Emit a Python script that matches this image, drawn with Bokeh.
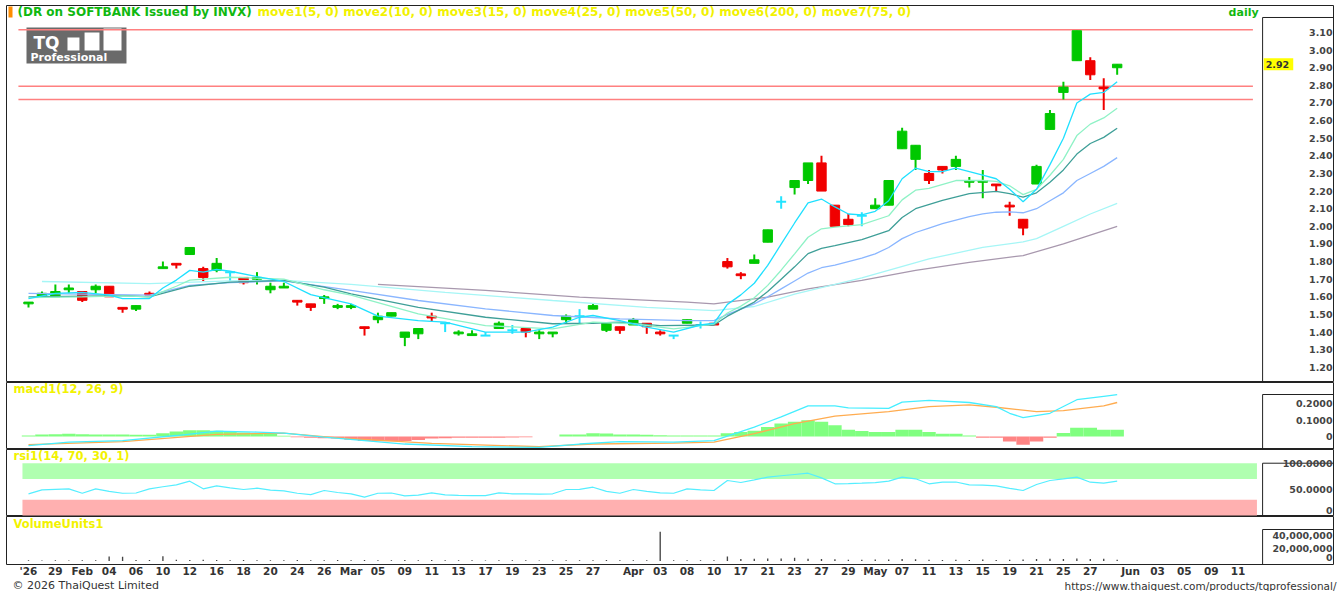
from bokeh.plotting import figure
from bokeh.models import (Range1d, LinearAxis, FixedTicker, CustomJSTickFormatter,
                          NumeralTickFormatter, ColumnDataSource, AllLabels)
from bokeh.layouts import column
from bokeh.embed import file_html
from bokeh.resources import INLINE
from bokeh.core.properties import value

# ---------------- data ----------------
DATES = ["2026-01-27", "2026-01-28", "2026-01-29", "2026-01-30", "2026-02-02", "2026-02-03",
         "2026-02-04", "2026-02-05", "2026-02-06", "2026-02-09", "2026-02-10", "2026-02-11",
         "2026-02-12", "2026-02-13", "2026-02-16", "2026-02-17", "2026-02-18", "2026-02-19",
         "2026-02-20", "2026-02-23", "2026-02-24", "2026-02-25", "2026-02-26", "2026-02-27",
         "2026-03-02", "2026-03-04", "2026-03-05", "2026-03-06", "2026-03-09", "2026-03-10",
         "2026-03-11", "2026-03-12", "2026-03-13", "2026-03-16", "2026-03-17", "2026-03-18",
         "2026-03-19", "2026-03-20", "2026-03-23", "2026-03-24", "2026-03-25", "2026-03-26",
         "2026-03-27", "2026-03-30", "2026-03-31", "2026-04-01", "2026-04-02", "2026-04-03",
         "2026-04-07", "2026-04-08", "2026-04-09", "2026-04-10", "2026-04-16", "2026-04-17",
         "2026-04-20", "2026-04-21", "2026-04-22", "2026-04-23", "2026-04-24", "2026-04-27",
         "2026-04-28", "2026-04-29", "2026-04-30", "2026-05-05", "2026-05-06", "2026-05-07",
         "2026-05-08", "2026-05-11", "2026-05-12", "2026-05-13", "2026-05-14", "2026-05-15",
         "2026-05-18", "2026-05-19", "2026-05-20", "2026-05-21", "2026-05-22", "2026-05-25",
         "2026-05-26", "2026-05-27", "2026-05-28", "2026-05-29"]

OPEN = [1.56, 1.60, 1.60, 1.64, 1.63, 1.64, 1.66, 1.54, 1.53, 1.62,
        1.76, 1.79, 1.84, 1.76, 1.75, 1.74, 1.71, 1.70, 1.64, 1.65,
        1.58, 1.56, 1.59, 1.54, 1.54, 1.43, 1.47, 1.49, 1.37, 1.39,
        1.49, 1.45, 1.39, 1.38, 1.38, 1.42, 1.41, 1.42, 1.39, 1.39,
        1.47, 1.49, 1.53, 1.41, 1.43, 1.44, 1.45, 1.40, 1.38, 1.45,
        1.44, 1.45, 1.80, 1.73, 1.79, 1.91, 2.14, 2.22, 2.26, 2.36,
        2.12, 2.04, 2.06, 2.10, 2.12, 2.44, 2.38, 2.30, 2.34, 2.34,
        2.25, 2.25, 2.24, 2.12, 2.04, 2.24, 2.55, 2.76, 2.94, 2.94,
        2.79, 2.90]
HIGH = [1.57, 1.63, 1.67, 1.67, 1.63, 1.67, 1.66, 1.54, 1.55, 1.63,
        1.80, 1.79, 1.88, 1.77, 1.82, 1.74, 1.71, 1.74, 1.68, 1.68,
        1.58, 1.56, 1.61, 1.56, 1.56, 1.43, 1.51, 1.51, 1.40, 1.42,
        1.51, 1.45, 1.41, 1.41, 1.40, 1.46, 1.44, 1.42, 1.41, 1.40,
        1.50, 1.53, 1.56, 1.45, 1.43, 1.48, 1.45, 1.41, 1.38, 1.47,
        1.46, 1.45, 1.82, 1.74, 1.84, 1.98, 2.17, 2.26, 2.36, 2.40,
        2.12, 2.07, 2.08, 2.16, 2.26, 2.56, 2.46, 2.32, 2.34, 2.40,
        2.28, 2.32, 2.24, 2.14, 2.04, 2.35, 2.66, 2.82, 3.11, 2.96,
        2.84, 2.92]
LOW = [1.54, 1.60, 1.60, 1.62, 1.57, 1.62, 1.60, 1.51, 1.52, 1.61,
       1.76, 1.76, 1.84, 1.69, 1.74, 1.69, 1.67, 1.67, 1.62, 1.65,
       1.55, 1.52, 1.56, 1.53, 1.53, 1.38, 1.45, 1.49, 1.32, 1.36,
       1.46, 1.40, 1.38, 1.38, 1.38, 1.42, 1.39, 1.37, 1.36, 1.37,
       1.45, 1.45, 1.53, 1.40, 1.39, 1.44, 1.39, 1.38, 1.36, 1.45,
       1.42, 1.44, 1.76, 1.70, 1.79, 1.91, 2.10, 2.18, 2.24, 2.20,
       2.00, 2.00, 2.00, 2.10, 2.12, 2.44, 2.32, 2.24, 2.30, 2.32,
       2.22, 2.16, 2.20, 2.06, 1.95, 2.24, 2.55, 2.72, 2.94, 2.83,
       2.66, 2.86]
CLOSE = [1.57, 1.62, 1.63, 1.65, 1.58, 1.66, 1.60, 1.53, 1.55, 1.61,
         1.77, 1.78, 1.88, 1.71, 1.79, 1.74, 1.68, 1.71, 1.66, 1.66,
         1.57, 1.54, 1.60, 1.55, 1.55, 1.42, 1.49, 1.51, 1.40, 1.42,
         1.48, 1.45, 1.40, 1.39, 1.38, 1.45, 1.41, 1.40, 1.40, 1.40,
         1.49, 1.49, 1.55, 1.45, 1.41, 1.47, 1.43, 1.39, 1.38, 1.47,
         1.44, 1.44, 1.77, 1.72, 1.81, 1.98, 2.14, 2.26, 2.36, 2.20,
         2.00, 2.01, 2.06, 2.12, 2.26, 2.54, 2.46, 2.26, 2.32, 2.38,
         2.26, 2.26, 2.23, 2.11, 1.99, 2.34, 2.64, 2.79, 3.11, 2.86,
         2.78, 2.92]
VOLUME = [1.0e6, 0.8e6, 1.2e6, 0.9e6, 1.1e6, 1.0e6, 7.0e6, 6.5e6, 1.5e6, 1.4e6,
          7.5e6, 2.0e6, 1.6e6, 1.8e6, 1.4e6, 1.2e6, 1.5e6, 1.3e6, 1.2e6, 1.0e6,
          1.4e6, 1.3e6, 1.2e6, 1.4e6, 1.1e6, 1.6e6, 1.2e6, 1.1e6, 1.5e6, 1.3e6,
          1.4e6, 1.1e6, 1.0e6, 1.2e6, 0.9e6, 1.3e6, 1.0e6, 1.2e6, 0.9e6, 1.1e6,
          1.3e6, 1.0e6, 1.2e6, 1.4e6, 1.0e6, 1.1e6, 1.2e6, 46.0e6, 1.3e6, 1.1e6,
          1.0e6, 1.2e6, 7.0e6, 3.0e6, 3.5e6, 3.8e6, 4.0e6, 5.0e6, 3.5e6, 3.0e6,
          2.8e6, 2.0e6, 1.8e6, 2.2e6, 2.5e6, 3.0e6, 2.6e6, 2.0e6, 1.6e6, 1.8e6,
          1.5e6, 2.2e6, 1.6e6, 1.8e6, 2.4e6, 3.2e6, 3.5e6, 3.0e6, 4.0e6, 3.0e6,
          3.5e6, 2.0e6]

# moving averages (candle index, value)
MA5_X = [0, 2, 4, 6, 7, 9, 10, 11, 12, 13, 14, 15, 17, 19, 21, 24, 26, 29, 31, 34,
         37, 39, 41, 42, 44, 46, 48, 50, 51, 52, 53, 54, 55, 56, 57, 58, 59, 60, 61,
         62, 63, 64, 65, 66, 67, 68, 69, 70, 71, 72, 73, 74, 75, 76, 77, 78, 79, 80, 81]
MA5_Y = [1.59, 1.62, 1.625, 1.61, 1.59, 1.59, 1.65, 1.695, 1.75, 1.74, 1.755, 1.745, 1.715,
         1.687, 1.612, 1.56, 1.49, 1.465, 1.456, 1.40, 1.40, 1.428, 1.484, 1.494, 1.465,
         1.428, 1.40, 1.44, 1.45, 1.557, 1.611, 1.677, 1.778, 1.899, 2.019, 2.133, 2.155,
         2.11, 2.07, 2.065, 2.085, 2.145, 2.27, 2.33, 2.31, 2.31, 2.33, 2.31, 2.29, 2.27,
         2.21, 2.14, 2.21, 2.35, 2.50, 2.70, 2.75, 2.76, 2.82]
MA10_X = [0, 4, 7, 9, 10, 11, 12, 15, 19, 22, 24, 29, 34, 39, 42, 45, 48, 51, 52, 53, 54,
          55, 56, 57, 58, 59, 60, 62, 64, 65, 66, 67, 69, 71, 72, 73, 74, 75, 76, 77, 78,
          79, 80, 81]
MA10_Y = [1.595, 1.60, 1.605, 1.60, 1.63, 1.66, 1.695, 1.711, 1.70, 1.64, 1.61, 1.503,
          1.437, 1.418, 1.456, 1.447, 1.418, 1.445, 1.508, 1.547, 1.595, 1.665, 1.751,
          1.844, 1.938, 1.986, 1.995, 2.01, 2.06, 2.15, 2.205, 2.215, 2.26, 2.26, 2.255,
          2.23, 2.18, 2.21, 2.29, 2.38, 2.515, 2.58, 2.615, 2.67]
MA15_X = [0, 7, 9, 12, 15, 19, 22, 24, 29, 34, 39, 42, 44, 47, 51, 52, 53, 54, 55, 56, 57,
          58, 59, 60, 62, 64, 65, 66, 68, 70, 72, 73, 74, 75, 76, 77, 78, 79, 80, 81]
MA15_Y = [1.60, 1.607, 1.60, 1.66, 1.683, 1.693, 1.655, 1.617, 1.54, 1.484, 1.447, 1.45,
          1.456, 1.437, 1.44, 1.49, 1.53, 1.57, 1.63, 1.70, 1.77, 1.845, 1.875, 1.89,
          1.925, 1.975, 2.05, 2.10, 2.147, 2.186, 2.198, 2.185, 2.166, 2.19, 2.25, 2.32,
          2.41, 2.47, 2.505, 2.557]
MA25_X = [0, 9, 12, 15, 19, 24, 29, 34, 39, 44, 49, 51, 52, 53, 54, 55, 56, 57, 58, 59,
          60, 61, 62, 63, 64, 65, 66, 67, 68, 69, 70, 71, 72, 73, 74, 75, 76, 77, 78, 79,
          80, 81]
MA25_Y = [1.62, 1.61, 1.665, 1.68, 1.69, 1.636, 1.579, 1.532, 1.494, 1.475, 1.465, 1.465,
          1.50, 1.53, 1.56, 1.60, 1.645, 1.69, 1.735, 1.765, 1.78, 1.80, 1.82, 1.844, 1.88,
          1.93, 1.965, 1.99, 2.015, 2.035, 2.055, 2.071, 2.08, 2.082, 2.077, 2.10, 2.145,
          2.19, 2.26, 2.30, 2.34, 2.39]
MA50_X = [1, 9, 15, 19, 24, 31, 39, 46, 51, 54, 57, 62, 67, 71, 74, 75, 77, 79, 81]
MA50_Y = [1.687, 1.675, 1.69, 1.693, 1.67, 1.625, 1.579, 1.54, 1.522, 1.545, 1.615, 1.708,
          1.815, 1.88, 1.912, 1.93, 2.0, 2.07, 2.13]
MA75_X = [26, 34, 41, 49, 51, 52, 55, 58, 62, 66, 70, 74, 77, 81]
MA75_Y = [1.67, 1.636, 1.598, 1.57, 1.56, 1.57, 1.598, 1.645, 1.693, 1.75, 1.796, 1.834,
          1.90, 2.00]

MACD_X = [0, 3, 7, 11, 14, 17, 19, 22, 25, 28, 33, 38, 41, 44, 48, 51, 54, 56, 58, 60, 61,
          64, 65, 67, 70, 72, 73, 74, 76, 78, 80, 81]
MACD_Y = [-0.056, -0.035, -0.025, 0.006, 0.033, 0.027, 0.021, -0.004, -0.025, -0.046,
          -0.0625, -0.067, -0.046, -0.031, -0.035, -0.025, 0.058, 0.12, 0.1875, 0.1875,
          0.175, 0.172, 0.21, 0.221, 0.208, 0.183, 0.142, 0.115, 0.142, 0.225, 0.246, 0.256]
SIGNAL_X = [0, 7, 14, 19, 23, 30, 38, 42, 48, 51, 54, 57, 60, 64, 67, 70, 72, 75, 77, 80, 81]
SIGNAL_Y = [-0.05, -0.031, 0.0125, 0.021, -0.008, -0.042, -0.0625, -0.046, -0.04, -0.035,
            0.017, 0.079, 0.125, 0.152, 0.183, 0.194, 0.179, 0.152, 0.158, 0.1875, 0.208]
HIST = [0.006, 0.012, 0.014, 0.017, 0.014, 0.012, 0.012, 0.012, 0.010, 0.010,
        0.020, 0.030, 0.0375, 0.0375, 0.035, 0.030, 0.025, 0.020, 0.015, 0.005,
        -0.005, -0.008, -0.010, -0.012, -0.020, -0.027, -0.029, -0.029, -0.027, -0.022,
        -0.012, -0.010, -0.008, -0.008, -0.008, -0.007, -0.006, -0.005, 0.0, 0.0,
        0.012, 0.013, 0.020, 0.018, 0.013, 0.012, 0.010, 0.008, 0.006, 0.006,
        0.006, 0.006, 0.020, 0.027, 0.035, 0.058, 0.079, 0.090, 0.100, 0.090,
        0.069, 0.042, 0.033, 0.027, 0.027, 0.042, 0.042, 0.027, 0.017, 0.017,
        0.006, -0.008, -0.008, -0.031, -0.050, -0.031, -0.008, 0.021, 0.054, 0.054,
        0.042, 0.042]
RSI = [41.5, 49, 50, 51, 42.6, 51, 46, 42.6, 43, 51,
       55, 58.6, 65.6, 51, 56.7, 53, 49.7, 52.2, 48.4, 47,
       42.6, 40, 47.8, 44, 41.5, 35, 42.6, 43, 37.6, 39,
       43.4, 39.5, 38.5, 38.2, 38, 43.4, 41.5, 41.5, 41, 41.5,
       49.7, 50, 54.1, 46, 42.6, 49.7, 46, 43.4, 42.6, 51,
       49, 47.8, 66.9, 63.1, 68, 73.3, 76, 78.4, 80.9, 72,
       60.6, 60.8, 61.8, 63, 65.6, 73.3, 70.2, 60.6, 63.7, 64,
       58.7, 58, 56.8, 52, 47.8, 59.3, 66.9, 70, 73.3, 63.7,
       61.8, 65.6]
RSI_UPPER, RSI_LOWER = 70, 30
LEVELS = [3.115, 2.795, 2.72]

TICK_IDX = [0, 2, 4, 6, 8, 10, 12, 14, 16, 18, 20, 22, 24, 26, 28, 30, 32, 34, 36, 38, 40, 42,
            45, 47, 49, 51, 53, 55, 57, 59, 61, 63, 65, 67, 69, 71, 73, 75, 77, 79,
            82, 84, 86, 88, 90]
TICK_LABELS = ["'26", "29", "Feb", "04", "06", "10", "12", "16", "18", "20", "24", "26",
               "Mar", "05", "09", "11", "13", "17", "19", "23", "25", "27",
               "Apr", "03", "08", "10", "17", "21", "23", "27", "29", "May", "07", "11",
               "13", "15", "19", "21", "25", "27",
               "Jun", "03", "05", "09", "11"]
PRICE_TICKS = [1.2, 1.3, 1.4, 1.5, 1.6, 1.7, 1.8, 1.9, 2.0, 2.1, 2.2, 2.3, 2.4, 2.5, 2.6,
               2.7, 2.8, 2.9, 3.0, 3.1]
VOLUME_TICKS = [20e6, 40e6]
VOLUME_BASE = 0

# ---------------- styling / layout ----------------
FONT = "DejaVu Sans"
GREEN, RED, DOJI = "#00c800", "#f00000", "#22e4ff"
YELLOW = "#f2f200"
LEFT_PAD = 6
FW = 1328                        # frame x from 6 to 1334 px
X0, X1 = -1.637, 97.17           # idx 0 at x=28 px, 13.44 px per candle
AXIS_AT = 97.1
BOX_X = 91.82
xr = Range1d(X0, X1)


def panel(fh, y0, y1, top=0):
    p = figure(frame_width=FW, frame_height=fh, x_range=xr, y_range=Range1d(y0, y1),
               output_backend="svg", toolbar_location=None, min_border=0,
               min_border_left=LEFT_PAD, min_border_top=top,
               x_axis_location=None, y_axis_location=None)
    p.title.visible = False
    p.grid.grid_line_color = None
    p.outline_line_color = "#222222"
    p.background_fill_color = "white"
    p.border_fill_color = "white"
    return p


def right_axis(p, ticks, fmt, baseline="middle"):
    ax = LinearAxis(fixed_location=AXIS_AT, ticker=FixedTicker(ticks=ticks), formatter=fmt,
                    major_label_policy=AllLabels(),
                    axis_line_color=None, major_tick_line_color=None,
                    minor_tick_line_color=None, major_tick_out=0, major_tick_in=0,
                    major_label_standoff=1, major_label_text_baseline=baseline,
                    major_label_text_font=FONT, major_label_text_font_style="bold",
                    major_label_text_font_size="9.5px", major_label_text_color="#444444")
    p.add_layout(ax, "left")


def txt(p, x, y, s, color, size, bold=True, align="left", baseline="middle"):
    p.text(x=[x], y=[y], text=[s], text_color=color, text_font=value(FONT),
           text_font_size=size, text_font_style="bold" if bold else "normal",
           text_align=align, text_baseline=baseline)


idx = list(range(len(CLOSE)))

# ---------------- main price panel (frame y 5..382 px) ----------------
p1 = panel(377, 1.1137, 3.2532, top=5)

# logo
p1.quad(left=[-0.149], right=[7.29], top=[3.1284], bottom=[2.924], fill_color="#6a6a6a",
        line_color=None)
p1.quad(left=[2.90, 4.17, 5.58], right=[3.79, 5.28, 6.92], top=[3.0716, 3.10, 3.1227],
        bottom=[2.998, 2.998, 2.998], fill_color="white", line_color=None)
txt(p1, 0.37, 3.0376, "TQ", "white", "17px")
txt(p1, 0.15, 2.958, "Professional", "white", "11px")

# header
p1.quad(left=[-1.488], right=[-1.19], top=[3.2476], bottom=[3.1851], fill_color="#ff8c00",
        line_color=None)
txt(p1, -0.82, 3.2135, "(DR on SOFTBANK Issued by INVX)", "#10b810", "12px")
txt(p1, 17.04, 3.2135, "move1(5, 0) move2(10, 0) move3(15, 0) move4(25, 0) move5(50, 0) "
    "move6(200, 0) move7(75, 0)", YELLOW, "12px")
txt(p1, 89.29, 3.2135, "daily", "#10b810", "11px")

# support / resistance lines
p1.segment(x0=[-0.75] * len(LEVELS), x1=[91.1] * len(LEVELS), y0=LEVELS, y1=LEVELS,
           line_color="#ff8080", line_width=1.5)

# candles
colors = [GREEN if c > o else (RED if c < o else DOJI) for o, c in zip(OPEN, CLOSE)]
src = ColumnDataSource(dict(x=idx, h=HIGH, l=LOW, color=colors))
p1.segment(x0="x", x1="x", y0="l", y1="h", line_color="color", line_width=2, source=src)
body = [i for i in idx if OPEN[i] != CLOSE[i]]
bsrc = ColumnDataSource(dict(x=body, top=[max(OPEN[i], CLOSE[i]) for i in body],
                             bot=[min(OPEN[i], CLOSE[i]) for i in body],
                             color=[colors[i] for i in body]))
p1.vbar(x="x", width=0.7, top="top", bottom="bot", fill_color="color", line_color="color",
        line_width=1, source=bsrc)
doji = [i for i in idx if OPEN[i] == CLOSE[i]]
p1.segment(x0=[i - 0.37 for i in doji], x1=[i + 0.37 for i in doji],
           y0=[OPEN[i] for i in doji], y1=[OPEN[i] for i in doji],
           line_color=DOJI, line_width=2)

# moving averages
for xs, ys, c in [(MA75_X, MA75_Y, "#a898ae"), (MA50_X, MA50_Y, "#a6f6f6"),
                  (MA25_X, MA25_Y, "#8ab6ff"), (MA15_X, MA15_Y, "#3f9f98"),
                  (MA10_X, MA10_Y, "#8ff2c6"), (MA5_X, MA5_Y, "#1fe0ff")]:
    p1.line(xs, ys, line_color=c, line_width=1.3)

# axis box + last price marker
p1.segment(x0=[BOX_X], x1=[BOX_X], y0=[1.0], y1=[3.1851], line_color="#222222", line_width=1)
p1.segment(x0=[BOX_X], x1=[X1 + 1], y0=[3.1851], y1=[3.1851], line_color="#222222",
           line_width=1)
last = CLOSE[-1]
p1.quad(left=[91.9], right=[94.1], top=[last + 0.034], bottom=[last - 0.034],
        fill_color="#ffff00", line_color=None)
txt(p1, 92.05, last, f"{last:.2f}", "#333333", "9.5px")
right_axis(p1, PRICE_TICKS, NumeralTickFormatter(format="0.00"))

# ---------------- MACD panel (frame y 382..449 px) ----------------
p2 = panel(67, -0.0795, 0.3303)
hsrc = ColumnDataSource(dict(x=idx, top=HIST,
                             color=["#80ff80" if v >= 0 else "#ff8484" for v in HIST]))
p2.vbar(x="x", width=1.0, top="top", bottom=0, fill_color="color", line_color=None,
        source=hsrc)
p2.line(SIGNAL_X, SIGNAL_Y, line_color="#ffac50", line_width=1.3)
p2.line(MACD_X, MACD_Y, line_color="#45eeff", line_width=1.3)
txt(p2, -1.116, 0.2936, "macd1(12, 26, 9)", YELLOW, "11.5px")
p2.quad(left=[BOX_X], right=[X1 + 1], top=[0.2569], bottom=[-0.0734], fill_color=None,
        line_color="#222222", line_width=1)
right_axis(p2, [0, 0.1, 0.2],
           CustomJSTickFormatter(code="return tick == 0 ? '0' : tick.toFixed(4);"))

# ---------------- RSI panel (frame y 449..516 px) ----------------
p3 = panel(67, -1.9, 126.2)
p3.quad(left=[-0.45, -0.45], right=[91.4, 91.4], top=[100, RSI_LOWER],
        bottom=[RSI_UPPER, 0], fill_color=["#b0ffb0", "#ffb0b0"], line_color=None)
p3.line(idx, RSI, line_color="#55eeff", line_width=1.2)
txt(p3, -1.116, 114.7, "rsi1(14, 70, 30, 1)", YELLOW, "11.5px")
p3.quad(left=[BOX_X], right=[X1 + 1], top=[100], bottom=[-1.34], fill_color=None,
        line_color="#222222", line_width=1)
for t, bl in [(100, "top"), (50, "middle"), (0, "bottom")]:
    right_axis(p3, [t], CustomJSTickFormatter(
        code="return tick == 0 ? '0' : tick.toFixed(4);"), baseline=bl)

# ---------------- Volume panel + date axis (frame y 516..564 px) ----------------
p4 = panel(48, -5.49e6, 69.8e6)
p4.vbar(x=idx, width=0.1, top=VOLUME, bottom=VOLUME_BASE, fill_color="#444444",
        line_color=None)
txt(p4, -1.116, 58.8e6, "VolumeUnits1", YELLOW, "11.5px")
p4.quad(left=[BOX_X], right=[X1 + 1], top=[49.4e6], bottom=[-9e6], fill_color=None,
        line_color="#222222", line_width=1)
right_axis(p4, VOLUME_TICKS, NumeralTickFormatter(format="0,0"))
# baseline "0" label of the volume scale, sitting on the volume zero line
txt(p4, AXIS_AT - 0.075, VOLUME_BASE, "0", "#444444", "9.5px", align="right",
    baseline="bottom")
xax = LinearAxis(ticker=FixedTicker(ticks=TICK_IDX),
                 major_label_overrides=dict(zip(TICK_IDX, TICK_LABELS)),
                 major_label_policy=AllLabels(),
                 axis_line_color=None, major_tick_line_color=None,
                 minor_tick_line_color=None, major_tick_out=0, major_tick_in=0,
                 major_label_standoff=0,
                 major_label_text_font=FONT, major_label_text_font_style="bold",
                 major_label_text_font_size="10.5px", major_label_text_color="#333333")
p4.add_layout(xax, "below")

# ---------------- footer ----------------
p5 = figure(frame_width=1340, frame_height=12, x_range=Range1d(0, 1340),
            y_range=Range1d(0, 1), output_backend="svg", toolbar_location=None,
            min_border=0, x_axis_location=None, y_axis_location=None)
p5.title.visible = False
p5.grid.grid_line_color = None
p5.outline_line_color = None
txt(p5, 6, 0.5, "© 2026 ThaiQuest Limited", "#333333", "11px", bold=False)
txt(p5, 1330, 0.5, "https://www.thaiquest.com/products/tqprofessional/", "#333333",
    "10.5px", bold=False, align="right")

layout = column(p1, p2, p3, p4, p5, spacing=0)
open("out.html", "w").write(file_html(layout, INLINE))
